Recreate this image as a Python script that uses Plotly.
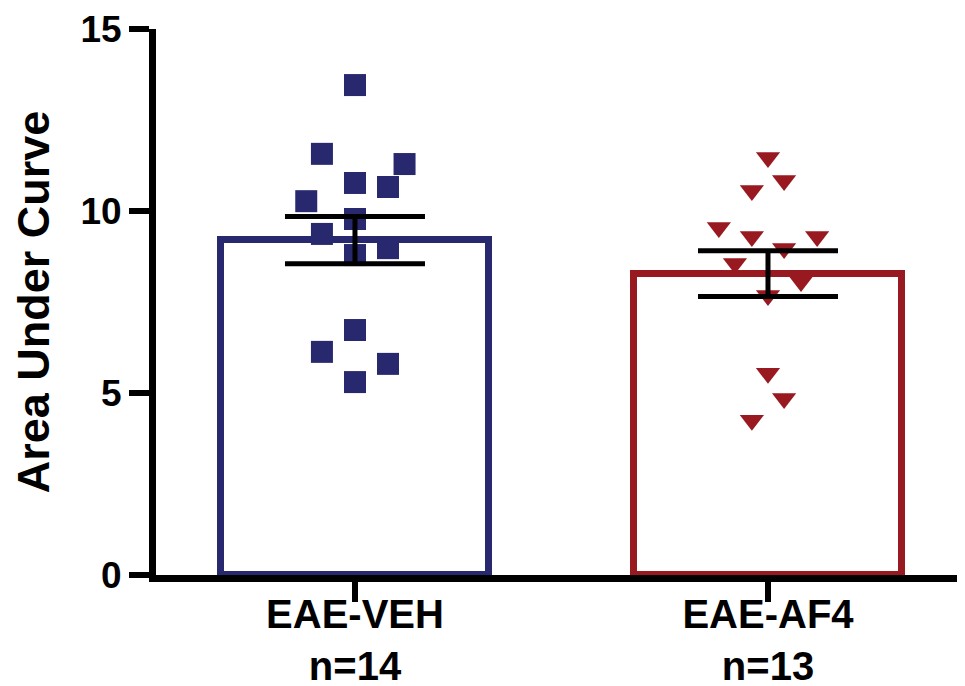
import plotly.graph_objects as go

# ---- data ----
groups = ["EAE-VEH<br>n=14", "EAE-AF4<br>n=13"]
bar_means = [9.20, 8.28]
bar_sem = [0.65, 0.63]

veh_values = [13.46, 11.57, 11.29, 10.77, 10.66, 10.27, 9.78, 9.37, 8.98, 8.79, 6.73, 6.13, 5.80, 5.30]
veh_jitter = [0.0, -0.08, 0.12, 0.0, 0.08, -0.118, 0.0, -0.08, 0.08, 0.0, 0.0, -0.08, 0.08, 0.0]

af4_values = [11.47, 10.84, 10.56, 9.55, 9.30, 9.30, 8.97, 8.56, 8.06, 7.68, 5.54, 4.85, 4.25]
af4_jitter = [0.0, 0.039, -0.039, -0.119, -0.039, 0.119, 0.039, -0.08, 0.08, 0.0, 0.0, 0.039, -0.039]

y_ticks = [0, 5, 10, 15]

blue = "rgb(40,40,110)"
red = "rgb(152,26,32)"
FONT = "Liberation Sans, Arial, sans-serif"

fig = go.Figure()

fig.add_trace(go.Bar(
    x=[0, 1], y=bar_means, width=0.65,
    marker=dict(color="white", line=dict(color=[blue, red], width=7)),
    hoverinfo="skip", showlegend=False,
))

fig.add_trace(go.Scatter(
    x=[0 + j for j in veh_jitter], y=veh_values, mode="markers",
    marker=dict(symbol="square", size=22, color=blue),
    showlegend=False,
))
fig.add_trace(go.Scatter(
    x=[1 + j for j in af4_jitter], y=af4_values, mode="markers",
    marker=dict(symbol="triangle-down", size=21, color=red),
    showlegend=False,
))

fig.add_trace(go.Scatter(
    x=[0, 1], y=bar_means, mode="markers",
    marker=dict(size=1, color="rgba(0,0,0,0)"),
    error_y=dict(type="data", array=bar_sem, visible=True, color="black", thickness=5, width=70),
    showlegend=False,
))

fig.update_layout(
    width=965, height=686,
    margin=dict(l=148, r=0, t=21, b=119),
    paper_bgcolor="white", plot_bgcolor="white",
    font=dict(family=FONT, color="black"),
    bargap=0,
)
fig.update_xaxes(
    range=[-0.4818, 1.4964], automargin=False,
    tickmode="array", tickvals=[0, 1], ticktext=groups,
    showgrid=False, zeroline=False,
    showline=True, linecolor="black", linewidth=7,
    ticks="outside", ticklen=20, tickwidth=6, tickcolor="black",
    tickfont=dict(size=40, family=FONT, weight="bold"),
    ticklabelstandoff=-22,
)
fig.update_yaxes(
    range=[0, 15], automargin=False,
    tickmode="array", tickvals=y_ticks,
    showgrid=False, zeroline=False,
    showline=True, linecolor="black", linewidth=7,
    ticks="outside", ticklen=20, tickwidth=6, tickcolor="black",
    tickfont=dict(size=37, family=FONT, weight="bold"),
    title=dict(text="Area Under Curve", font=dict(size=45, family=FONT, weight="bold"), standoff=28),
)

fig.write_html("out.html")
